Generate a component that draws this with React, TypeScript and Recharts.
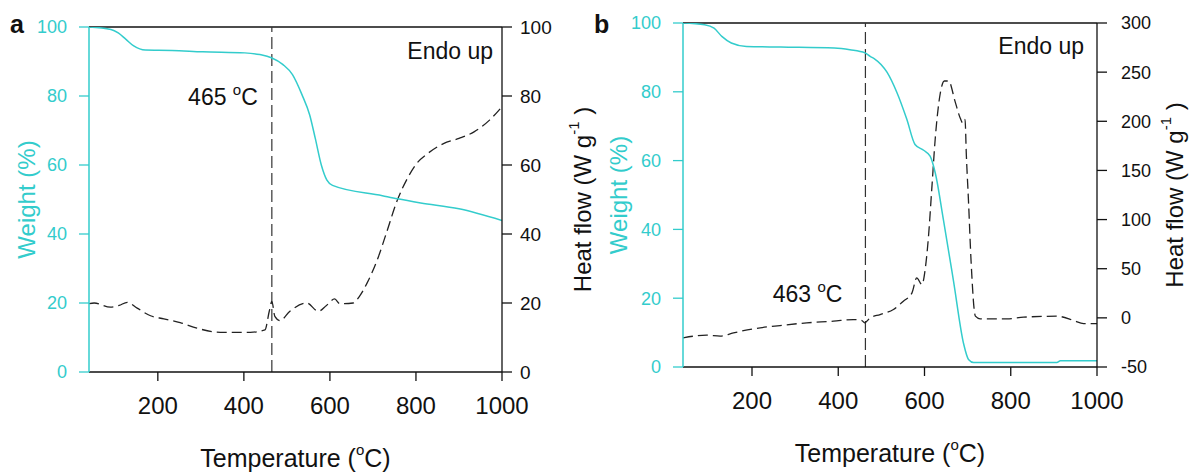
import { ComposedChart, Line, XAxis, YAxis, ReferenceLine } from 'recharts';

const TEAL = '#33cccc';
const INK = '#111';
const FONT = "'Liberation Sans', Arial, sans-serif";

const xTicks = [200, 400, 600, 800, 1000];
const weightTicks = [0, 20, 40, 60, 80, 100];
const heatTicksA = [0, 20, 40, 60, 80, 100];
const heatTicksB = [-50, 0, 50, 100, 150, 200, 250, 300];

// panel a - TGA (weight %) and DSC (heat flow)
const tempWeightA = [40, 91, 108, 126, 144, 171, 233, 304, 402, 437, 464, 491, 513, 535, 553, 566, 580, 593, 606, 722, 757, 811, 900, 1000];
const weightA = [100, 99.3, 98.3, 96.4, 94.5, 93.3, 93.2, 92.8, 92.5, 92.0, 91.1, 89.1, 86.2, 80.4, 74.5, 67.7, 60, 55.6, 54.1, 51.1, 50.2, 49.0, 47.3, 43.9];
const tempHeatA = [40, 52, 90, 110, 129, 152, 183, 214, 252, 291, 345, 415, 449, 459, 465, 472, 484, 507, 546, 573, 592, 611, 623, 654, 669, 686, 713, 731, 757, 780, 802, 828, 864, 900, 935, 971, 1000];
const heatA = [19.8, 20.0, 18.8, 19.3, 20.2, 18.5, 16.3, 15.4, 14.3, 12.7, 11.5, 11.5, 12.2, 17.6, 20.5, 16.1, 14.9, 17.6, 20, 17.6, 19.3, 21.2, 19.8, 20, 22, 25.7, 33.5, 40.2, 49.9, 56.1, 60.5, 63.4, 66.2, 67.7, 69.6, 73.0, 76.9];

// panel b
const tempWeightB = [40, 90, 112, 130, 152, 187, 267, 391, 427, 462, 474, 484, 513, 536, 559, 578, 598, 613, 625, 644, 667, 691, 702, 714, 907, 915, 1000];
const weightB = [100, 99.5, 98.5, 96.1, 94.2, 93.2, 93.0, 92.7, 92.2, 91.3, 90.3, 89.6, 85.7, 79.8, 72, 64.7, 63, 61.3, 56.4, 42.7, 25.2, 6.6, 2.2, 1.3, 1.3, 1.8, 1.8];
const tempHeatB = [40, 95, 126, 157, 203, 265, 327, 389, 435, 455, 461, 474, 497, 528, 551, 571, 582, 594, 602, 609, 617, 625, 636, 646, 656, 671, 683, 689, 694, 697, 702, 708, 718, 729, 791, 830, 907, 946, 969, 1000];
const heatB = [-20.3, -17.6, -18.6, -15.3, -11.2, -7.8, -5.1, -3.4, -1.7, -2.7, -5.1, 0, 3.4, 8.5, 17, 25.4, 40.7, 33.9, 50.8, 81.4, 132, 183, 227, 241, 241, 220, 203, 198, 202, 166, 119, 57.6, 1.7, -1, -1, 0.7, 1.7, -2.7, -5.8, -5.8];

type Pt = { t: number; v: number };
const zip = (xs: number[], ys: number[]): Pt[] => xs.map((t, i) => ({ t, v: ys[i] }));

interface PanelProps {
  left: number;
  width: number;
  plot: { l: number; r: number; t: number; b: number };
  weight: Pt[];
  heat: Pt[];
  heatDomain: [number, number];
  heatTicks: number[];
  heatTickFont: number;
  heatTickMargin: number;
  onset: number;
  onsetDx: number;
  onsetDy: number;
  endoDx: number;
  endoDy: number;
  leftTitleX: number;
  rightTitleDx: number;
  letter: string;
  letterX: number;
}

function Panel(p: PanelProps) {
  const H = 473;
  const { plot } = p;

  const xTitle = (props: any) => {
    const vb = props.viewBox;
    return (
      <text x={vb.x + vb.width / 2} y={vb.y + 86} textAnchor="middle" dominantBaseline="central" fontSize={25} fill={INK} fontFamily={FONT}>
        Temperature (<tspan dy={-9} fontSize={15}>o</tspan><tspan dy={9}>C)</tspan>
      </text>
    );
  };

  const leftTitle = (props: any) => {
    const vb = props.viewBox;
    const cx = p.leftTitleX;
    const cy = vb.y + vb.height / 2;
    return (
      <text x={cx} y={cy} transform={`rotate(-90 ${cx} ${cy})`} textAnchor="middle" dominantBaseline="central" fontSize={24} fill={TEAL} fontFamily={FONT}>
        Weight (%)
      </text>
    );
  };

  const rightTitle = (props: any) => {
    const vb = props.viewBox;
    const cx = vb.x + p.rightTitleDx;
    const cy = vb.y + vb.height / 2;
    return (
      <text x={cx} y={cy} transform={`rotate(-90 ${cx} ${cy})`} textAnchor="middle" dominantBaseline="central" fontSize={24} fill={INK} fontFamily={FONT}>
        Heat flow (W g<tspan dy={-9} fontSize={15}>-1</tspan><tspan dy={9}> )</tspan>
      </text>
    );
  };

  const onsetLabel = (props: any) => {
    const vb = props.viewBox;
    return (
      <text x={vb.x - p.onsetDx} y={vb.y + p.onsetDy} textAnchor="end" fontSize={23} fill={INK} fontFamily={FONT}>
        {p.onset} <tspan dy={-10} fontSize={15}>o</tspan><tspan dy={10}>C</tspan>
      </text>
    );
  };

  const endoLabel = (props: any) => {
    const vb = props.viewBox;
    return (
      <text x={vb.x + vb.width - p.endoDx} y={vb.y + p.endoDy} textAnchor="end" fontSize={23} fill={INK} fontFamily={FONT}>
        Endo up
      </text>
    );
  };

  return (
    <div style={{ position: 'absolute', left: p.left, top: 0, width: p.width, height: H }}>
      <ComposedChart width={p.width} height={H} margin={{ top: plot.t, right: 0, bottom: 0, left: 0 }}>
        <XAxis
          xAxisId="bottom"
          dataKey="t"
          type="number"
          domain={[40, 1000]}
          ticks={xTicks}
          allowDataOverflow
          height={H - plot.b}
          tickSize={9}
          tickMargin={16}
          tick={{ fill: INK, fontSize: 24, fontFamily: FONT }}
          axisLine={{ stroke: INK, strokeWidth: 1.3 }}
          tickLine={{ stroke: INK, strokeWidth: 1.3 }}
          label={xTitle}
        />
        <YAxis
          yAxisId="left"
          orientation="left"
          width={plot.l}
          domain={[0, 100]}
          ticks={weightTicks}
          allowDataOverflow
          tickSize={10}
          tickMargin={12}
          tick={{ fill: TEAL, fontSize: 18, fontFamily: FONT }}
          axisLine={{ stroke: TEAL, strokeWidth: 1.5 }}
          tickLine={{ stroke: TEAL, strokeWidth: 1.3 }}
          label={leftTitle}
        />
        <YAxis
          yAxisId="right"
          orientation="right"
          width={p.width - plot.r}
          domain={p.heatDomain}
          ticks={p.heatTicks}
          allowDataOverflow
          tickSize={10}
          tickMargin={p.heatTickMargin}
          tick={{ fill: INK, fontSize: p.heatTickFont, fontFamily: FONT }}
          axisLine={{ stroke: INK, strokeWidth: 1.3 }}
          tickLine={{ stroke: INK, strokeWidth: 1.3 }}
          label={rightTitle}
        />
        <ReferenceLine xAxisId="bottom" yAxisId="right" y={p.heatDomain[1]} stroke={INK} strokeWidth={1.3} label={endoLabel} />
        <ReferenceLine xAxisId="bottom" yAxisId="left" x={p.onset} stroke="#333" strokeWidth={1.2} strokeDasharray="12 5" label={onsetLabel} />
        <Line
          xAxisId="bottom"
          yAxisId="right"
          data={p.heat}
          dataKey="v"
          type="monotone"
          stroke="#222"
          strokeWidth={1.3}
          strokeDasharray="10 5"
          dot={false}
          isAnimationActive={false}
        />
        <Line
          xAxisId="bottom"
          yAxisId="left"
          data={p.weight}
          dataKey="v"
          type="monotone"
          stroke={TEAL}
          strokeWidth={1.5}
          dot={false}
          isAnimationActive={false}
        />
      </ComposedChart>
      <div
        style={{
          position: 'absolute',
          left: p.letterX,
          top: 12,
          fontSize: 25,
          lineHeight: '25px',
          fontWeight: 'bold',
          fontFamily: FONT,
          color: INK,
        }}
      >
        {p.letter}
      </div>
    </div>
  );
}

export default function App() {
  return (
    <div style={{ position: 'absolute', left: 0, top: 0, width: 1189, height: 473, background: '#fff', fontFamily: FONT }}>
      <Panel
        left={0}
        width={600}
        plot={{ l: 89, r: 502, t: 27, b: 372 }}
        weight={zip(tempWeightA, weightA)}
        heat={zip(tempHeatA, heatA)}
        heatDomain={[0, 100]}
        heatTicks={heatTicksA}
        heatTickFont={19}
        heatTickMargin={8}
        onset={465}
        onsetDx={14}
        onsetDy={78}
        endoDx={9}
        endoDy={32}
        leftTitleX={26}
        rightTitleDx={80}
        letter="a"
        letterX={10}
      />
      <Panel
        left={590}
        width={599}
        plot={{ l: 93, r: 507, t: 23, b: 367 }}
        weight={zip(tempWeightB, weightB)}
        heat={zip(tempHeatB, heatB)}
        heatDomain={[-50, 300]}
        heatTicks={heatTicksB}
        heatTickFont={18}
        heatTickMargin={14}
        onset={463}
        onsetDx={23}
        onsetDy={279}
        endoDx={13}
        endoDy={31}
        leftTitleX={28}
        rightTitleDx={77}
        letter="b"
        letterX={4}
      />
    </div>
  );
}
